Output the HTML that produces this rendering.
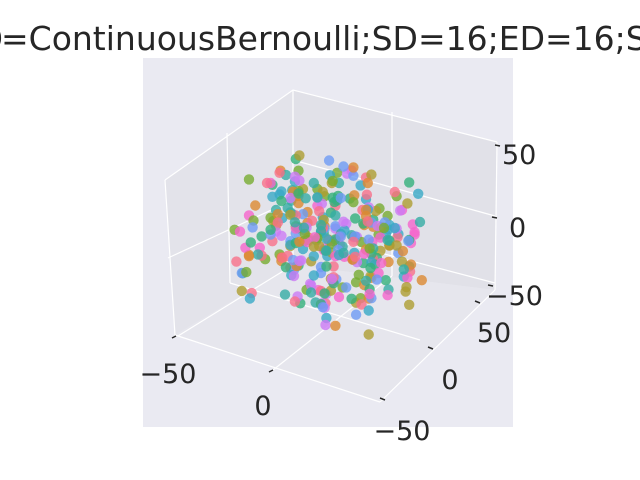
<!DOCTYPE html>
<html><head><meta charset="utf-8"><style>
body{margin:0;background:#fff}
svg{display:block;font-family:"DejaVu Sans","Liberation Sans",sans-serif}
</style></head><body>
<svg width="640" height="480" viewBox="0 0 640 480" xmlns="http://www.w3.org/2000/svg">
<g font-size="33" fill="#262626">
<text x="3" y="50" text-anchor="end">SSID</text>
<text x="1" y="50">=ContinuousBernoulli;SD=16;ED=16;SR=1</text>
</g>
<rect x="143" y="58" width="370" height="369" fill="#eaeaf2"/>
<g>
<polygon points="175,335 165,180 293,90 293,265" fill="#e3e3ea"/>
<polygon points="293,265 293,90 497,142 495,290" fill="#e1e1e8"/>
<polygon points="175,335 380,402 495,290 293,265" fill="#e6e6ed"/>
</g>
<g stroke="#ffffff" stroke-width="1.2" fill="none">
<polyline points="165,180 293,90 497,142"/>
<line x1="175" y1="335" x2="165" y2="180"/>
<line x1="293" y1="90" x2="293" y2="265"/>
<line x1="497" y1="142" x2="495" y2="290"/>
<line x1="227" y1="133" x2="230" y2="283"/>
<line x1="168" y1="258" x2="293" y2="200"/>
<line x1="392" y1="112" x2="392" y2="276"/>
<line x1="293" y1="160" x2="495" y2="216"/>
<line x1="293" y1="230" x2="495" y2="283"/>
<line x1="175" y1="335" x2="380" y2="402"/>
<line x1="380" y1="402" x2="495" y2="290"/>
<line x1="230" y1="283" x2="420" y2="340"/>
<line x1="273" y1="370" x2="392" y2="276"/>
<line x1="178" y1="336" x2="293" y2="265"/>
</g>
<g id="pts"></g>
<g stroke="#262626" stroke-width="1.5">
<line x1="172" y1="338" x2="176" y2="336"/><line x1="269" y1="372" x2="273" y2="370"/>
<line x1="385" y1="400" x2="380" y2="398"/><line x1="433" y1="349" x2="428" y2="347"/><line x1="480" y1="303" x2="475" y2="301"/>
<line x1="495" y1="145" x2="500" y2="146"/><line x1="492" y1="217" x2="497" y2="218"/><line x1="488" y1="285" x2="493" y2="286"/>
</g>
<g font-size="27" fill="#262626">
<text x="168" y="383" text-anchor="middle">−50</text>
<text x="263" y="415" text-anchor="middle">0</text>
<text x="402" y="440" text-anchor="middle">−50</text>
<text x="450" y="389" text-anchor="middle">0</text>
<text x="494" y="342" text-anchor="middle">50</text>
<text x="502" y="164">50</text>
<text x="509" y="237">0</text>
<text x="486" y="305">−50</text>
</g>
</svg>
<script>
const xs=[-40,-35,-30,-25,-20,-15,-10,-5,0,5,10,15,20,25,30,35,40,-38,-28,-18,-8,2,12,22,32,42,-33,-23,-13,-3,7,17,27,37,-42,-36,-26,-16,-6,4,14,24,34,-31,-21,-11,-1,9,19,29,39,-37,-27,-17,-7,3,13,23,33,-39,-29,-19,-9,1,11,21,31,41,-34,-24,-14,-4,6,16,26,36,-32,-22,-12,-2,8,18,28,38,-30,-20,-10,0,10,20,30,-25,-15,-5,5,15,25,-35,-12,12,35,-20,0,20,-28,28,-8,8,-44,44,-16,16,-3,3,-24,24,-40,40,-10,10,-33,33,-6,6,-18,18,-27,27,0,-14,14,-36,36,-22,22,-2,2,-30,30,-9,9,-19,19,-26,26,-12,12,
-21,7,-33,18,-4,29,-15,36,-26,11,-8,24,-37,3,15,-19,31,-11,20,-29,6,-2,38,-17,9,-34,26,-6,13,-23,33,-13,1,-31,22,-9,17,-38,5,28,-24,-1,35,-14,10,-27,19,-5,30,-20,14,-35,23,-10,4,-28,37,-16,8,-3,27,-22,16,-32,2,21,-12,34,-25,12,-7,25,-18,6,-30,32,-15,18,-1,-36,11,27,-20,-9,39,-26,3,15,-13,22,-4,-33,29,-23,9,
-17,34,-8,21,-29,13,-2,26,-38,7,17,-11,31,-24,1,-19,23,-6,36,-31,12,-14,28,-3,19,-27,5,-35,24,-10,14,-21,33,-1,8,-16,30,-28,16,-7,22,-34,2,11,-25,37,-12,20,-5,-30,25,-18,10,-39,6,29,-22,18,-2,-13,35,-26,4,-9,15,-32,27,-15,9,-37,21,0,-24,32,-11,13,-6,-29,24,-19,7,36,-3,-23,17,-14,30,-35,1,12,-8,26,-20,19,-27,5,-16,33,-4,10,-31,22,-12,28,-1,14,-25,8,-18,31,-7,20,-34,3];
const ys=[10,-20,30,-35,5,40,-10,25,-40,15,-25,35,0,-15,20,-5,8,-30,18,-8,38,-22,12,-38,28,-2,22,-42,2,32,-18,42,-12,16,-6,34,-28,24,-14,4,-34,14,-24,6,36,-16,26,-36,-4,30,-26,20,-10,40,-20,10,-30,0,18,-12,28,-22,8,38,-32,-2,24,-18,34,-8,14,-28,4,-38,20,30,-14,0,22,-24,12,-34,32,-4,-44,16,44,-16,26,-26,6,-36,36,2,-6,18,-40,10,-20,28,-10,0,30,-30,20,-18,8,-2,12,-14,40,-40,24,-24,4,-8,16,-16,32,-32,0,10,-10,22,-22,14,-36,36,6,-6,26,-26,2,-12,18,-4,34,-34,-20,20,8,-28,28,
14,-27,3,31,-12,-35,22,7,-18,36,-5,-29,17,26,-9,-33,11,29,-21,4,-38,19,-14,33,-2,-25,9,37,-16,24,1,-31,15,-8,28,-23,6,-36,20,12,-19,35,-4,-28,23,-11,30,-1,-34,16,8,-24,38,-7,18,-30,2,25,-15,-37,13,27,-20,5,34,-10,-26,21,-3,32,-17,10,-39,24,-6,15,29,-22,0,-32,36,7,-13,19,-27,3,26,-9,-35,17,31,-18,
-6,22,-31,11,-1,28,-17,35,-24,6,-12,19,-36,30,2,-21,14,-8,25,-33,9,38,-15,-3,21,-28,13,32,-10,-38,17,4,-22,27,-13,8,-30,23,36,-5,-19,11,-34,29,-2,15,-25,1,33,-14,20,-37,7,26,-11,-23,18,-4,35,-29,12,-16,24,3,-32,30,-9,16,-20,-1,37,-26,10,21,-7,-35,27,-13,5,34,-18,13,-30,0,23,-10,31,-24,8,-3,18,-39,28,-15,6,25,-21,2,14,-33,20,-8,32,-27,9];
const zs=[20,-15,5,30,-35,10,-5,40,0,-25,15,-10,35,-30,25,-20,-40,12,-22,32,2,-12,22,-32,8,-2,-38,18,-8,28,-28,-18,38,-14,4,24,-4,14,-34,34,-24,6,-6,36,-26,16,-16,26,-36,-8,6,-30,30,-10,10,-20,20,0,-40,40,-14,14,-4,24,-24,4,-34,34,28,-18,18,-28,8,-8,38,-38,-12,12,-22,22,-2,2,-32,32,0,-20,20,-40,40,-10,10,25,-25,15,-15,5,-5,0,30,-30,35,-35,-20,20,10,-10,0,0,-28,28,18,-18,-6,6,-38,38,14,-14,-24,24,2,-2,-32,32,22,-22,0,-16,16,8,-8,-26,26,36,-36,12,-12,4,-4,-30,30,16,-16,
-3,17,-26,9,31,-14,-37,4,22,-8,35,-19,11,-30,1,26,-11,-22,15,37,-5,-33,19,-16,7,28,-27,-1,13,-36,24,-9,33,-20,2,-12,29,-31,16,-4,38,-24,6,21,-15,-34,10,-7,32,-28,18,-2,25,-18,-38,12,3,-25,30,-13,8,-35,20,-6,36,-21,14,1,-29,23,-10,34,-32,5,17,-17,-39,27,-3,11,-23,31,9,-14,-27,22,-1,37,-33,15,-8,
24,-19,7,-30,33,-4,15,-25,-12,28,-36,1,20,-9,37,-16,-31,11,-2,25,-22,34,6,-13,-35,18,-6,29,-27,12,3,-18,32,-10,-37,21,8,-28,14,-1,35,-24,-15,26,-33,9,-5,30,-20,16,-11,38,-29,4,22,-17,-38,13,-3,31,-26,19,-7,-34,27,2,-21,10,36,-14,-30,23,-9,17,0,-24,33,-12,-32,28,5,-19,15,-36,21,-1,8,-27,34,-6,12,-17,-33,26,3,-23,19,-13,30,-2];
const cats=[0,1,2,3,4,5,6,7,8,9,4,6,1,0,9,5,2,3,7,8,4,6,0,1,9,5,2,4,3,7,8,6,0,1,9,4,5,2,3,7,8,6,4,0,1,9,5,2,3,4,7,8,6,0,1,9,5,4,2,3,7,8,6,0,4,1,9,5,2,3,7,8,6,4,0,1,9,5,2,3,7,8,4,6,0,1,9,5,2,3,4,7,8,6,0,1,9,5,2,4,3,7,8,6,0,1,9,5,4,2,3,7,8,6,0,1,4,9,5,2,3,7,8,6,0,4,1,9,5,2,3,7,8,6,4,0,1,9,5,2,3,7,1];
const palette=['#f77189','#dc8932','#ae9d31','#77ab31','#33b07a','#36ada4','#38a9c5','#6e9bf4','#cc7af4','#f565cc'];
const O=[330,240],ex=[1.8,0.6],ey=[0.9,-0.9],ez=[0,-1.2];
function proj(x,y,z){return [O[0]+x*ex[0]+y*ey[0]+z*ez[0],O[1]+x*ex[1]+y*ey[1]+z*ez[1]];}
const g=document.getElementById('pts');
const n=Math.min(xs.length,ys.length,zs.length);
const order=[...Array(n).keys()].sort((a,b)=>(xs[a]-ys[a])-(xs[b]-ys[b]));
for(const i of order){
  const p=proj(xs[i],ys[i],zs[i]);
  const c=document.createElementNS('http://www.w3.org/2000/svg','circle');
  
  
  c.setAttribute('cx',p[0].toFixed(1));c.setAttribute('cy',p[1].toFixed(1));
  c.setAttribute('r','5.2');c.setAttribute('fill',palette[cats[i%cats.length]]);
  c.setAttribute('fill-opacity','0.8');
  g.appendChild(c);
}
</script>
</body></html>
